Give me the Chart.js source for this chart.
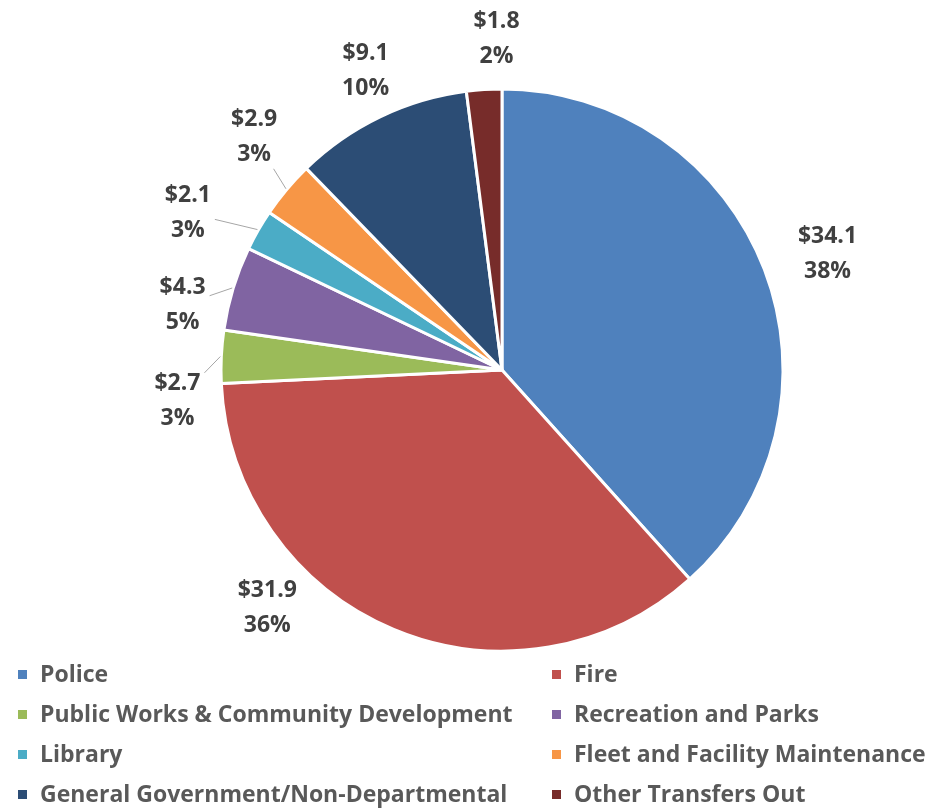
<!DOCTYPE html>
<html>
<head>
<meta charset="utf-8">
<script src="https://cdn.jsdelivr.net/npm/chart.js@4"></script>
<style>
  html, body { margin: 0; padding: 0; background: #fff; }
  #wrap { position: relative; width: 932px; height: 809px; }
  #legend { position: absolute; left: 0; top: 653px; width: 932px; font-family: "Open Sans", sans-serif; font-weight: bold; font-size: 23px; color: #595959; }
  .item { position: absolute; height: 40px; line-height: 40px; white-space: nowrap; }
  .box { display: inline-block; width: 9px; height: 9px; margin-right: 13px; vertical-align: middle; position: relative; top: -1px; }
</style>
</head>
<body>
<div id="wrap">
  <canvas id="pie" width="932" height="809"></canvas>
  <div id="legend"></div>
</div>
<script>
// budget by department, $ millions
const categories = ['Police', 'Fire', 'Public Works & Community Development', 'Recreation and Parks',
  'Library', 'Fleet and Facility Maintenance', 'General Government/Non-Departmental', 'Other Transfers Out'];
const amounts = [34.1, 31.9, 2.7, 4.3, 2.1, 2.9, 9.1, 1.8];
const pctLabels = ['38%', '36%', '3%', '5%', '3%', '3%', '10%', '2%'];

const sliceColors = ['#4F81BD', '#C0504D', '#9BBB59', '#8064A2', '#4BACC6', '#F79646', '#2C4D75', '#772C2A'];

// where each label sits: shift from slice middle (deg), distance as share of radius, leader line
const labelShift = [1.3, 21.9, -8.1, -5.4, -3.3, 3.2, 1.2, 2.7];
const labelDist = [1.23, 1.19, 1.16, 1.16, 1.25, 1.21, 1.17, 1.18];
const leader = [false, false, true, true, true, true, false, false];

const labelFont = 'bold 23px "Open Sans"';
const lineGap = 35;

const outsideLabels = {
  id: 'outsideLabels',
  afterDatasetsDraw(chart) {
    const ctx = chart.ctx;
    const arcs = chart.getDatasetMeta(0).data;
    ctx.save();
    ctx.font = labelFont;
    ctx.textAlign = 'center';
    ctx.textBaseline = 'middle';
    arcs.forEach((arc, i) => {
      const p = arc.getProps(['x', 'y', 'startAngle', 'endAngle', 'outerRadius']);
      const mid = (p.startAngle + p.endAngle) / 2;
      const a = mid + labelShift[i] * Math.PI / 180;
      const lx = p.x + Math.cos(a) * p.outerRadius * labelDist[i];
      const ly = p.y + Math.sin(a) * p.outerRadius * labelDist[i];
      const t1 = '$' + amounts[i].toFixed(1);
      const t2 = pctLabels[i];

      if (leader[i]) {
        const ax = p.x + Math.cos(mid) * (p.outerRadius + 1);
        const ay = p.y + Math.sin(mid) * (p.outerRadius + 1);
        const hw = Math.max(ctx.measureText(t1).width, ctx.measureText(t2).width) / 2 + 4;
        const hh = lineGap / 2 + 14;
        const dx = ax - lx, dy = ay - ly;
        const s = Math.min(hw / Math.abs(dx || 1e-6), hh / Math.abs(dy || 1e-6));
        ctx.strokeStyle = '#a6a6a6';
        ctx.lineWidth = 1;
        ctx.beginPath();
        ctx.moveTo(lx + dx * s, ly + dy * s);
        ctx.lineTo(ax, ay);
        ctx.stroke();
      }

      ctx.fillStyle = '#404040';
      ctx.fillText(t1, lx, ly - lineGap / 2);
      ctx.fillText(t2, lx, ly + lineGap / 2);
    });
    ctx.restore();
  }
};

const config = {
  type: 'pie',
  data: {
    labels: categories,
    datasets: [{
      data: amounts,
      backgroundColor: sliceColors,
      borderColor: '#ffffff',
      borderWidth: 3,
      hoverOffset: 0
    }]
  },
  options: {
    responsive: false,
    animation: false,
    radius: 281,
    layout: { padding: { left: 72, bottom: 69 } },
    plugins: {
      legend: { display: false },
      tooltip: { enabled: false }
    }
  },
  plugins: [outsideLabels]
};

const myChart = new Chart(document.getElementById('pie'), config);

// legend in two columns, built from the chart data
const legendEl = document.getElementById('legend');
myChart.data.labels.forEach((name, i) => {
  const item = document.createElement('div');
  item.className = 'item';
  item.style.left = (i % 2 === 0 ? 18 : 552) + 'px';
  item.style.top = (Math.floor(i / 2) * 40) + 'px';
  const box = document.createElement('span');
  box.className = 'box';
  box.style.background = myChart.data.datasets[0].backgroundColor[i];
  item.appendChild(box);
  item.appendChild(document.createTextNode(name));
  legendEl.appendChild(item);
});
</script>
</body>
</html>
